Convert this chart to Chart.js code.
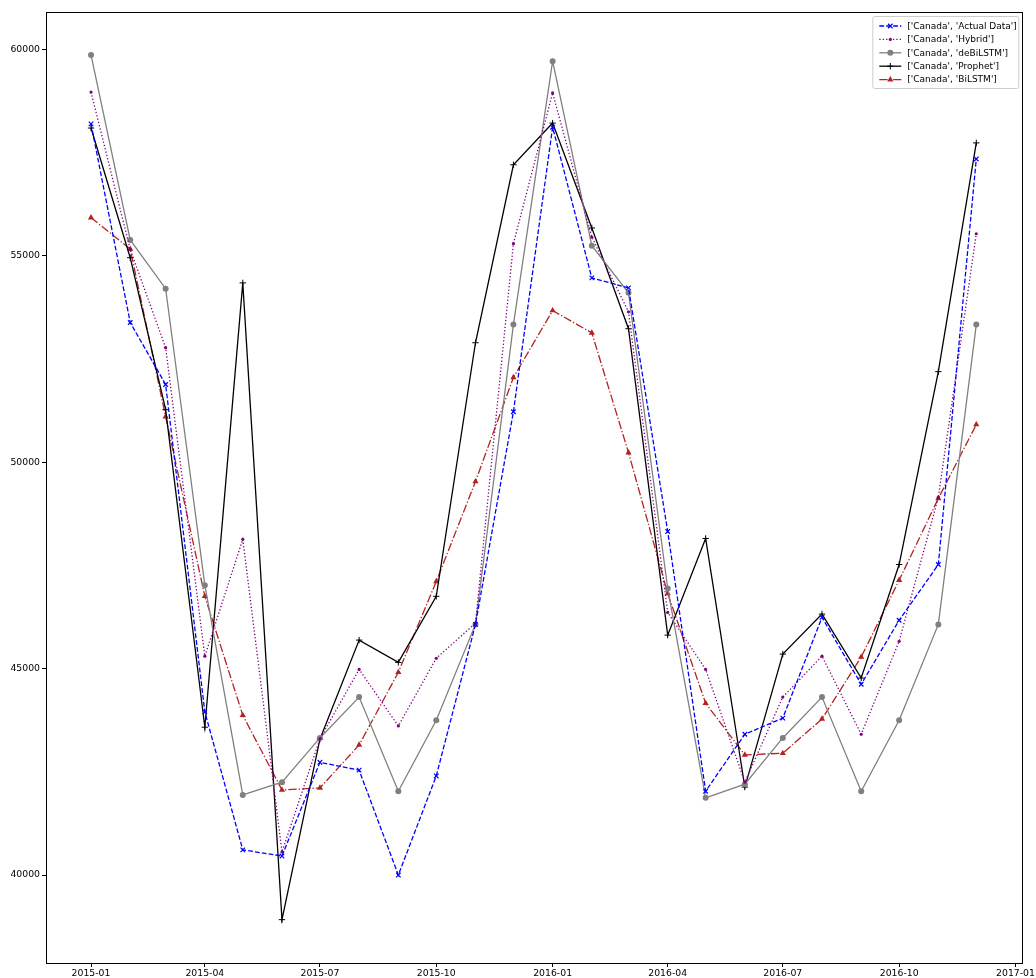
<!DOCTYPE html>
<html>
<head>
<meta charset="utf-8">
<script src="https://cdn.jsdelivr.net/npm/chart.js@4.4.1/dist/chart.umd.min.js"></script>
<style>
  html, body { margin: 0; padding: 0; background: #fff; }
  canvas { display: block; }
</style>
</head>
<body>
<canvas id="chart" width="1036" height="978"></canvas>
<script>
// Canada forecasts vs actual, monthly 2015-01 .. 2016-12

const months = [
  '2015-01', '2015-02', '2015-03', '2015-04', '2015-05', '2015-06',
  '2015-07', '2015-08', '2015-09', '2015-10', '2015-11', '2015-12',
  '2016-01', '2016-02', '2016-03', '2016-04', '2016-05', '2016-06',
  '2016-07', '2016-08', '2016-09', '2016-10', '2016-11', '2016-12',
];

const actual = [
  58190, 53380, 51880, 43950, 40610, 40460, 42730, 42540, 40000, 42400, 46070, 51220,
  58110, 54460, 54220, 48320, 42030, 43410, 43800, 46240, 44620, 46170, 47520, 57340,
];
const hybrid = [
  58960, 55150, 52770, 45300, 48130, 40560, 43300, 44980, 43610, 45250, 46100, 55290,
  58940, 55450, 53640, 46360, 44980, 42250, 44310, 45300, 43410, 45660, 49150, 55530,
];
const debilstm = [
  59860, 55380, 54200, 47020, 41940, 42250, 43320, 44310, 42030, 43750, 46070, 53330,
  59710, 55240, 54100, 46940, 41870, 42200, 43320, 44310, 42030, 43750, 46070, 53330,
];
const prophet = [
  58090, 54950, 51270, 43580, 54340, 38920, 43290, 45690, 45150, 46750, 52890, 57200,
  58210, 55670, 53230, 45810, 48150, 42130, 45350, 46320, 44770, 47520, 52190, 57730,
];
const bilstm = [
  55920, 55160, 51100, 46750, 43870, 42060, 42110, 43150, 44910, 47110, 49530, 52050,
  53670, 53130, 50230, 46820, 44160, 42910, 42950, 43780, 45280, 47140, 49120, 50910,
];

const xTickLabels = [
  '2015-01', '2015-04', '2015-07', '2015-10',
  '2016-01', '2016-04', '2016-07', '2016-10', '2017-01',
];
const yTickValues = [40000, 45000, 50000, 55000, 60000];

const FONT = 'DejaVu Sans, Verdana, sans-serif';

function dayOf(ym) {
  const [y, m] = ym.split('-').map(Number);
  return (Date.UTC(y, m - 1, 1) - Date.UTC(2015, 0, 1)) / 864e5;
}

function pts(values) {
  return values.map((v, i) => ({ x: dayOf(months[i]), y: v }));
}

const series = [
  { label: "['Canada', 'Actual Data']", data: actual, color: '#0000ff', dash: [4.8, 2.1], style: 'crossRot', r: 3.2, bw: 1.2 },
  { label: "['Canada', 'Hybrid']", data: hybrid, color: '#800080', dash: [1.3, 2.1], style: 'circle', r: 1.6, bw: 0 },
  { label: "['Canada', 'deBiLSTM']", data: debilstm, color: '#808080', dash: [], style: 'circle', r: 3, bw: 0 },
  { label: "['Canada', 'Prophet']", data: prophet, color: '#000000', dash: [], style: 'cross', r: 3.2, bw: 1 },
  { label: "['Canada', 'BiLSTM']", data: bilstm, color: '#b22222', dash: [8.3, 2.1, 1.3, 2.1], style: 'triangle', r: 3.6, bw: 0 },
];

// black box around the axes, drawn above the lines like matplotlib spines
const framePlugin = {
  id: 'frame',
  afterDatasetsDraw(chart) {
    const { ctx, chartArea: a } = chart;
    ctx.save();
    ctx.strokeStyle = '#000';
    ctx.lineWidth = 1;
    ctx.strokeRect(Math.round(a.left) + 0.5, Math.round(a.top) + 0.5,
      Math.round(a.right - a.left), Math.round(a.bottom - a.top));
    ctx.restore();
  },
};

// legend inside the upper right corner of the axes
const insideLegend = {
  id: 'insideLegend',
  afterDraw(chart) {
    const { ctx, chartArea: a } = chart;
    const boxW = 146, boxH = 72;
    const x0 = a.right - 4 - boxW, y0 = a.top + 4;
    ctx.save();
    ctx.fillStyle = 'rgba(255,255,255,0.8)';
    ctx.strokeStyle = '#cccccc';
    ctx.lineWidth = 1;
    ctx.beginPath();
    ctx.roundRect(x0 + 0.5, y0 + 0.5, boxW, boxH, 2);
    ctx.fill();
    ctx.stroke();
    ctx.font = '9px ' + FONT;
    ctx.textBaseline = 'middle';
    series.forEach((s, i) => {
      const y = y0 + 10 + i * 13.4;
      const lx0 = x0 + 7, lx1 = x0 + 29;
      ctx.strokeStyle = s.color;
      ctx.lineWidth = 1.3;
      ctx.setLineDash(s.dash);
      ctx.beginPath();
      ctx.moveTo(lx0, y);
      ctx.lineTo(lx1, y);
      ctx.stroke();
      ctx.setLineDash([]);
      ctx.fillStyle = s.color;
      ctx.lineWidth = s.bw || 1;
      Chart.helpers.drawPoint(ctx, { pointStyle: s.style, radius: s.r, rotation: 0, borderWidth: s.bw }, (lx0 + lx1) / 2, y);
      ctx.fillStyle = '#000';
      ctx.fillText(s.label, x0 + 35, y + 0.5);
    });
    ctx.restore();
  },
};

new Chart(document.getElementById('chart'), {
  type: 'line',
  data: {
    datasets: series.map(s => ({
      label: s.label,
      data: pts(s.data),
      borderColor: s.color,
      backgroundColor: s.color,
      borderWidth: 1.3,
      borderDash: s.dash,
      pointStyle: s.style,
      pointRadius: s.r,
      pointBorderWidth: s.bw,
      pointBorderColor: s.color,
      pointBackgroundColor: s.color,
      tension: 0,
      fill: false,
    })),
  },
  options: {
    responsive: false,
    animation: false,
    devicePixelRatio: 1,
    layout: { padding: { top: 12, right: 13, left: 0, bottom: 0 } },
    plugins: {
      legend: { display: false },
      tooltip: { enabled: false },
    },
    scales: {
      x: {
        type: 'linear',
        min: -35.6,
        max: dayOf('2016-12') + 36.4,
        afterBuildTicks: axis => { axis.ticks = xTickLabels.map(t => ({ value: dayOf(t) })); },
        afterFit: scale => { scale.height = 15; },
        ticks: {
          autoSkip: false,
          maxRotation: 0,
          padding: 1,
          color: '#000',
          font: { family: FONT, size: 9.3 },
          callback: v => xTickLabels.find(t => dayOf(t) === v) || '',
        },
        grid: { drawOnChartArea: false, drawTicks: true, tickLength: 4, color: '#000' },
        border: { display: false },
      },
      y: {
        type: 'linear',
        min: 37870,
        max: 60900,
        afterBuildTicks: axis => { axis.ticks = yTickValues.map(v => ({ value: v })); },
        afterFit: scale => { scale.width = 46; },
        ticks: {
          padding: 2,
          color: '#000',
          font: { family: FONT, size: 9.3 },
          callback: v => String(v),
        },
        grid: { drawOnChartArea: false, drawTicks: true, tickLength: 4, color: '#000' },
        border: { display: false },
      },
    },
  },
  plugins: [framePlugin, insideLegend],
});
</script>
</body>
</html>
